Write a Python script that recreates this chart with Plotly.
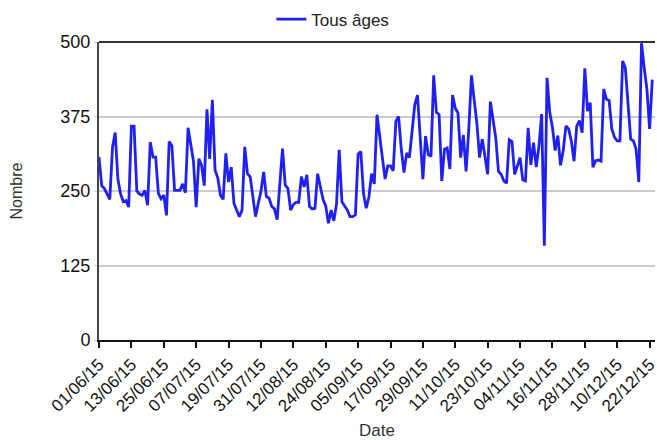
import pandas as pd
import plotly.graph_objects as go

START_DATE = "2015-06-01"
SERIES_NAME = "Tous âges"
TICK_EVERY_DAYS = 12

# daily counts, one per day from 01/06/15
counts = [
    307, 259, 254, 246, 236, 323, 348, 270, 245, 232,
    234, 223, 359, 359, 250, 245, 243, 251, 226, 332,
    307, 307, 246, 237, 243, 209, 333, 326, 251, 251,
    251, 262, 247, 356, 330, 300, 223, 304, 293, 259,
    387, 304, 403, 285, 272, 243, 236, 313, 265, 290,
    229, 218, 207, 218, 324, 279, 274, 241, 207, 229,
    249, 282, 241, 238, 224, 220, 202, 262, 321, 260,
    254, 218, 227, 231, 231, 274, 257, 277, 224, 220,
    221, 279, 260, 236, 225, 196, 218, 200, 228, 319,
    232, 224, 218, 207, 207, 210, 312, 316, 246, 221,
    240, 279, 262, 378, 340, 310, 270, 292, 292, 284,
    367, 375, 320, 281, 314, 306, 350, 395, 411, 345,
    270, 342, 311, 308, 444, 382, 378, 267, 320, 322,
    287, 411, 389, 381, 306, 344, 283, 353, 444, 403,
    364, 306, 337, 308, 278, 400, 367, 339, 283, 278,
    267, 263, 336, 333, 278, 294, 306, 269, 267, 356,
    294, 331, 290, 325, 379, 158, 440, 382, 357, 318,
    343, 293, 318, 359, 354, 334, 300, 359, 368, 348,
    456, 384, 398, 290, 301, 302, 300, 421, 404, 402,
    354, 340, 334, 334, 468, 457, 400, 337, 334, 320,
    265, 498, 457, 421, 354, 437,
]

y_ticks = [0, 125, 250, 375, 500]

dates = pd.date_range(START_DATE, periods=len(counts), freq="D")
x_ticks = dates[::TICK_EVERY_DAYS]
x_tick_labels = [d.strftime("%d/%m/%y") for d in x_ticks]

fig = go.Figure()
fig.add_trace(
    go.Scatter(
        x=dates,
        y=counts,
        mode="lines",
        name=SERIES_NAME,
        line={"color": "#2020f0", "width": 2.8},
    )
)

font = "Liberation Sans, Arial, sans-serif"

fig.update_layout(
    width=657,
    height=440,
    margin={"l": 99, "r": 2, "t": 42, "b": 100, "autoexpand": False},
    plot_bgcolor="white",
    paper_bgcolor="white",
    font={"family": font, "color": "#222222"},
    showlegend=True,
    legend={
        "orientation": "h",
        "x": 0.31,
        "xanchor": "left",
        "y": 1.015,
        "yanchor": "bottom",
        "font": {"size": 17, "color": "#222222"},
        "bgcolor": "rgba(0,0,0,0)",
        "itemwidth": 30,
    },
    xaxis={
        "title": {"text": "Date", "font": {"size": 17, "color": "#333333"}, "standoff": 22},
        "automargin": False,
        "range": [dates[0], dates[-1] + pd.Timedelta(days=1)],
        "tickvals": x_ticks,
        "ticktext": x_tick_labels,
        "tickangle": -45,
        "ticklabeloverflow": "allow",
        "tickfont": {"size": 17, "color": "#111111"},
        "ticks": "outside",
        "ticklen": 6,
        "tickwidth": 1.5,
        "tickcolor": "#111111",
        "showgrid": False,
        "showline": True,
        "linecolor": "#111111",
        "linewidth": 2,
        "zeroline": False,
    },
    yaxis={
        "title": {"text": "Nombre", "font": {"size": 16, "color": "#333333"}, "standoff": 34},
        "automargin": False,
        "range": [0, 500],
        "tickvals": y_ticks,
        "tickfont": {"size": 18, "color": "#111111"},
        "ticks": "outside",
        "ticklen": 3,
        "tickcolor": "#cccccc",
        "showgrid": True,
        "gridcolor": "#cccccc",
        "gridwidth": 1.5,
        "showline": True,
        "linecolor": "#444444",
        "linewidth": 2,
        "zeroline": False,
    },
    shapes=[
        {
            "type": "line",
            "xref": "paper",
            "yref": "paper",
            "x0": 0,
            "x1": 1,
            "y0": 1,
            "y1": 1,
            "line": {"color": "#333333", "width": 2},
        }
    ],
)

# drop the default page margin so the figure sits at the window's corner
fig.write_html(
    "out.html",
    config={"displayModeBar": False},
    post_script="document.body.style.margin = '0';",
)
